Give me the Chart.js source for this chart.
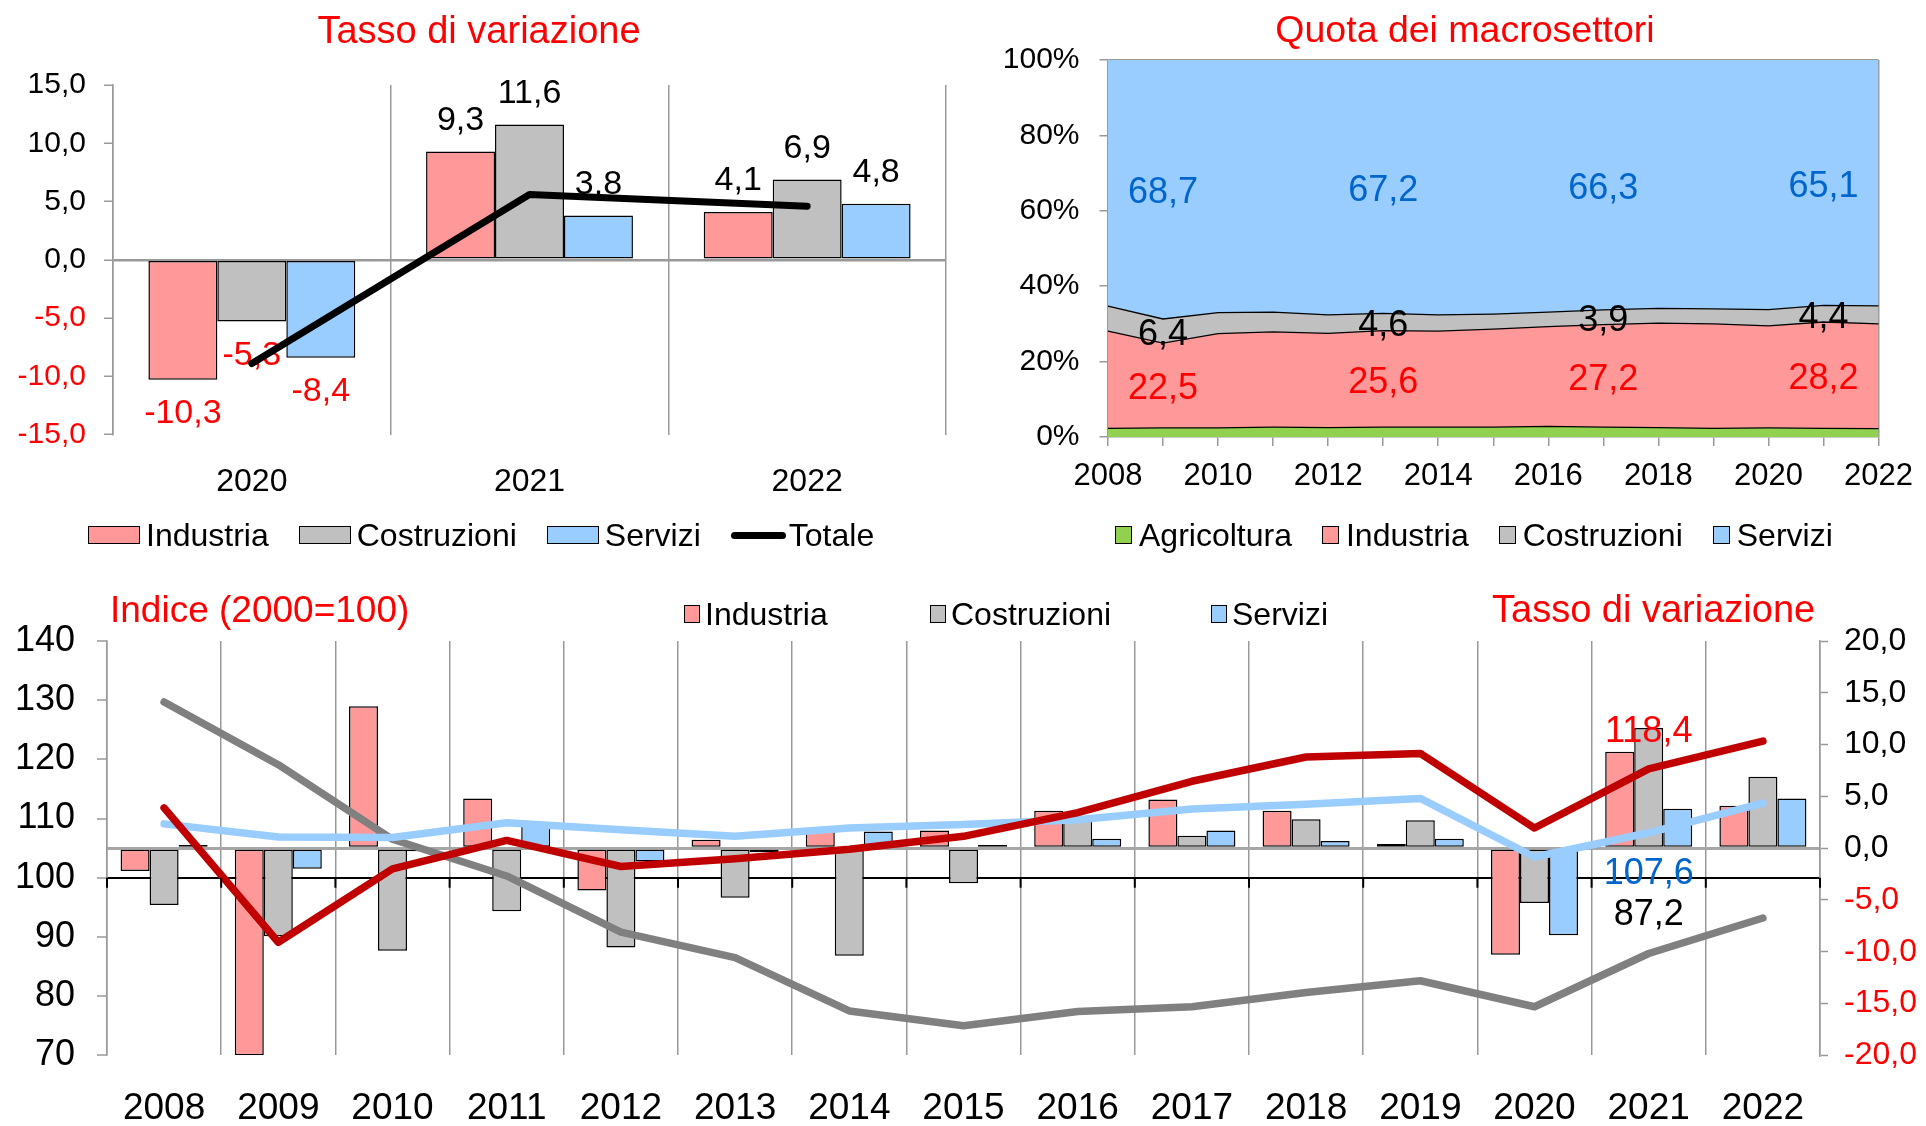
<!DOCTYPE html>
<html>
<head>
<meta charset="utf-8">
<script src="https://cdn.jsdelivr.net/npm/chart.js@4.4.0/dist/chart.umd.min.js"></script>
<style>
  body { margin: 0; background: #fff; }
  #pagina { position: relative; width: 1926px; height: 1126px; overflow: hidden; font-family: 'Liberation Sans', Arial, sans-serif; }
  canvas { position: absolute; }
  .tit { position: absolute; color: #f00; font-size: 37px; line-height: 1; white-space: nowrap; }
  .leg { position: absolute; display: flex; align-items: center; line-height: 1; white-space: nowrap; }
  .it { display: flex; align-items: center; }
  .sw { display: inline-block; border: 1.5px solid #000; box-sizing: border-box; }
</style>
</head>
<body>
<div id="pagina">
  <canvas id="c1" width="964" height="480" style="left:0;top:40px"></canvas>
  <canvas id="c2" width="962" height="500" style="left:964px;top:21px"></canvas>
  <canvas id="c3" width="1926" height="566" style="left:0;top:560px"></canvas>

  <div class="tit" style="left:479px;top:11px;font-size:38px;transform:translateX(-50%)">Tasso di variazione</div>
  <div class="tit" style="left:1465px;top:11px;font-size:37.5px;transform:translateX(-50%)">Quota dei macrosettori</div>
  <div class="tit" style="left:110px;top:591px">Indice (2000=100)</div>
  <div class="tit" style="left:1492px;top:590px;font-size:38px">Tasso di variazione</div>

  <div class="leg" style="left:88px;top:519px;font-size:32px;gap:30px">
    <span class="it" style="gap:6px"><i class="sw" style="width:52px;height:18px;background:#FF9999"></i>Industria</span>
    <span class="it" style="gap:6px"><i class="sw" style="width:52px;height:18px;background:#C0C0C0"></i>Costruzioni</span>
    <span class="it" style="gap:6px"><i class="sw" style="width:52px;height:18px;background:#99CCFF"></i>Servizi</span>
    <span class="it" style="gap:3px"><i style="display:inline-block;width:55px;height:7px;background:#000;border-radius:3.5px"></i>Totale</span>
  </div>

  <div class="leg" style="left:1115px;top:519px;font-size:32px;gap:30px">
    <span class="it" style="gap:7px"><i class="sw" style="width:17px;height:18px;background:#92D050"></i>Agricoltura</span>
    <span class="it" style="gap:7px"><i class="sw" style="width:17px;height:18px;background:#FF9999"></i>Industria</span>
    <span class="it" style="gap:7px"><i class="sw" style="width:17px;height:18px;background:#C0C0C0"></i>Costruzioni</span>
    <span class="it" style="gap:7px"><i class="sw" style="width:17px;height:18px;background:#99CCFF"></i>Servizi</span>
  </div>

  <div class="leg" style="left:684px;top:598px;font-size:32px">
    <span class="it" style="gap:5px"><i class="sw" style="width:16px;height:18px;background:#FF9999"></i>Industria</span>
  </div>
  <div class="leg" style="left:930px;top:598px;font-size:32px">
    <span class="it" style="gap:5px"><i class="sw" style="width:16px;height:18px;background:#C0C0C0"></i>Costruzioni</span>
  </div>
  <div class="leg" style="left:1211px;top:598px;font-size:32px">
    <span class="it" style="gap:5px"><i class="sw" style="width:16px;height:18px;background:#99CCFF"></i>Servizi</span>
  </div>
</div>

<script>
// tasso di variazione 2020-2022 (in alto a sinistra)
const anniVar = ['2020', '2021', '2022'];
const varIndustria = [-10.3, 9.3, 4.1];
const varCostruzioni = [-5.3, 11.6, 6.9];
const varServizi = [-8.4, 3.8, 4.8];
const varTotale = [-8.9, 5.6, 4.6];

// quota dei macrosettori (in alto a destra)
const anniQuota = ['2008', '2009', '2010', '2011', '2012', '2013', '2014', '2015', '2016', '2017', '2018', '2019', '2020', '2021', '2022'];
const quotaAgricoltura = [2.3, 2.4, 2.4, 2.6, 2.5, 2.6, 2.6, 2.6, 2.8, 2.6, 2.5, 2.3, 2.4, 2.3, 2.2];
const quotaIndustria = [25.8, 22.5, 25.0, 25.3, 25.0, 25.6, 25.5, 26.0, 26.5, 27.2, 27.7, 27.7, 27.1, 28.2, 27.8];
const quotaCostruzioni = [6.6, 6.4, 5.6, 5.2, 4.9, 4.6, 4.3, 4.0, 3.8, 3.9, 3.9, 4.0, 4.3, 4.4, 4.8];
const quotaServizi = [65.3, 68.7, 67.0, 66.9, 67.6, 67.2, 67.6, 67.4, 66.9, 66.3, 65.9, 66.0, 66.2, 65.1, 65.2];
const anniEtichette = ['2009', '2013', '2017', '2021'];

// indice (2000=100) e tasso di variazione (in basso)
const anni = ['2008', '2009', '2010', '2011', '2012', '2013', '2014', '2015', '2016', '2017', '2018', '2019', '2020', '2021', '2022'];
const tassoIndustria = [-2.2, -20.0, 13.7, 4.8, -4.1, 0.8, 1.7, 1.7, 3.6, 4.7, 3.6, 0.4, -10.3, 9.3, 4.1];
const tassoCostruzioni = [-5.5, -8.5, -9.9, -6.1, -9.6, -4.8, -10.4, -3.4, 3.1, 1.2, 2.8, 2.7, -5.3, 11.6, 6.9];
const tassoServizi = [0.3, -2.0, -0.3, 2.4, -1.3, -0.4, 1.6, 0.3, 0.9, 1.7, 0.7, 0.9, -8.4, 3.8, 4.8];
const indiceIndustria = [111.8, 89.1, 101.5, 106.3, 101.9, 103.2, 104.8, 107.0, 111.0, 116.3, 120.4, 121.0, 108.4, 118.4, 123.1];
const indiceCostruzioni = [129.7, 119.1, 106.5, 100.3, 90.8, 86.5, 77.5, 75.0, 77.4, 78.2, 80.6, 82.6, 78.2, 87.2, 93.2];
const indiceServizi = [109.1, 106.9, 106.8, 109.3, 108.1, 107.0, 108.4, 109.0, 109.8, 111.6, 112.4, 113.4, 103.5, 107.6, 112.6];

const ROSSO = '#FF0000';
const BLU = '#0066CC';
const ROSA = '#FF9999';
const GRIGIO = '#C0C0C0';
const AZZURRO = '#99CCFF';
const VERDE = '#92D050';
const ASSE = '#999';
const FONT = "'Liberation Sans', Arial, sans-serif";

Chart.defaults.font.family = FONT;
Chart.defaults.color = '#000';
Chart.defaults.animation = false;
Chart.defaults.plugins.legend.display = false;
Chart.defaults.plugins.tooltip.enabled = false;

const fmt = v => Number(v).toFixed(1).replace('.', ',');
const larghezza = w => s => { s.width = w; };
const altezza = h => s => { s.height = h; };
const coloreSegno = c => (c.tick && c.tick.value < 0 ? ROSSO : '#000');

// etichette delle barre (sotto la linea del totale)
const etichetteBarre = {
  id: 'etichetteBarre',
  beforeDatasetsDraw(chart) {
    const ctx = chart.ctx;
    ctx.save();
    ctx.font = '34px ' + FONT;
    ctx.textAlign = 'center';
    ctx.textBaseline = 'middle';
    chart.data.datasets.forEach((ds, i) => {
      if (ds.type === 'line') return;
      chart.getDatasetMeta(i).data.forEach((el, j) => {
        const v = ds.data[j];
        ctx.fillStyle = v < 0 ? ROSSO : '#000';
        ctx.fillText(fmt(v), el.x, el.y + (v < 0 ? 34 : -31));
      });
    });
    ctx.restore();
  }
};

new Chart(document.getElementById('c1'), {
  type: 'bar',
  data: {
    labels: anniVar,
    datasets: [
      { type: 'line', label: 'Totale', data: varTotale, borderColor: '#000', borderWidth: 7,
        pointRadius: 0, borderCapStyle: 'round', borderJoinStyle: 'round', order: 0 },
      { label: 'Industria', data: varIndustria, backgroundColor: ROSA, order: 1 },
      { label: 'Costruzioni', data: varCostruzioni, backgroundColor: GRIGIO, order: 1 },
      { label: 'Servizi', data: varServizi, backgroundColor: AZZURRO, order: 1 }
    ]
  },
  options: {
    responsive: false,
    devicePixelRatio: 1,
    layout: { padding: { top: 45, right: 18, left: 0, bottom: 0 } },
    datasets: { bar: { categoryPercentage: 0.745, barPercentage: 1, borderColor: '#000', borderWidth: 1.5, borderSkipped: false } },
    scales: {
      x: {
        grid: { offset: true, color: ASSE, lineWidth: 1.5, drawTicks: false },
        border: { display: false },
        ticks: { font: { size: 32 }, padding: 28 },
        afterFit: altezza(85.4)
      },
      y: {
        min: -15, max: 15,
        ticks: { stepSize: 5, callback: fmt, color: coloreSegno, font: { size: 30 }, padding: 18 },
        grid: { color: c => (c.tick && c.tick.value === 0 ? ASSE : 'transparent'), lineWidth: 2.5,
                tickColor: ASSE, tickLength: 9, tickWidth: 1.5 },
        border: { color: ASSE, width: 1.5 },
        afterFit: larghezza(113)
      }
    }
  },
  plugins: [etichetteBarre]
});

// etichette delle quote al centro di ciascuna fascia
const etichetteQuote = {
  id: 'etichetteQuote',
  afterDatasetsDraw(chart) {
    const ctx = chart.ctx;
    const colori = [null, ROSSO, '#000', BLU];
    ctx.save();
    ctx.font = '36px ' + FONT;
    ctx.textAlign = 'center';
    ctx.textBaseline = 'middle';
    anniEtichette.forEach(a => {
      const j = anniQuota.indexOf(a);
      for (let i = 1; i < 4; i++) {
        const sopra = chart.getDatasetMeta(i).data[j];
        const sotto = chart.getDatasetMeta(i - 1).data[j];
        ctx.fillStyle = colori[i];
        ctx.fillText(fmt(chart.data.datasets[i].data[j]), sopra.x, (sopra.y + sotto.y) / 2 + 4);
      }
    });
    ctx.restore();
  }
};

new Chart(document.getElementById('c2'), {
  type: 'line',
  data: {
    labels: anniQuota,
    datasets: [
      { label: 'Agricoltura', data: quotaAgricoltura, backgroundColor: VERDE, fill: 'origin' },
      { label: 'Industria', data: quotaIndustria, backgroundColor: ROSA, fill: '-1' },
      { label: 'Costruzioni', data: quotaCostruzioni, backgroundColor: GRIGIO, fill: '-1' },
      { label: 'Servizi', data: quotaServizi, backgroundColor: AZZURRO, fill: '-1', borderWidth: 0 }
    ]
  },
  options: {
    responsive: false,
    devicePixelRatio: 1,
    layout: { padding: { top: 39, right: 47.5, left: 0, bottom: 0 } },
    elements: { line: { borderColor: '#000', borderWidth: 1.3, tension: 0 }, point: { radius: 0 } },
    scales: {
      x: {
        z: 1,
        grid: { color: c => (c.index === anniQuota.length - 1 ? ASSE : 'transparent'), lineWidth: 1.5,
                tickColor: ASSE, tickLength: 9, tickWidth: 1.5 },
        border: { color: ASSE, width: 1.5 },
        ticks: { autoSkip: false, maxRotation: 0, minRotation: 0, font: { size: 31 }, padding: 12,
                 callback: (v, i) => (i % 2 === 0 ? anniQuota[i] : '') },
        afterFit: altezza(84)
      },
      y: {
        z: 1,
        stacked: true, min: 0, max: 100,
        ticks: { stepSize: 20, callback: v => v + '%', font: { size: 30 }, padding: 20 },
        grid: { color: c => (c.tick && c.tick.value === 100 ? ASSE : 'transparent'), lineWidth: 1.5,
                tickColor: ASSE, tickLength: 8.5, tickWidth: 1.5 },
        border: { color: ASSE, width: 1.5 },
        afterFit: larghezza(144)
      }
    }
  },
  plugins: [etichetteQuote]
});

// tacche dell'asse delle categorie che incrocia a 100
const tacche = {
  id: 'tacche',
  afterDraw(chart) {
    const { ctx, scales: { x, y } } = chart;
    const y0 = y.getPixelForValue(100);
    const passo = x.width / x.ticks.length;
    ctx.save();
    ctx.strokeStyle = '#000';
    ctx.lineWidth = 2;
    for (let i = 0; i <= x.ticks.length; i++) {
      const px = x.left + i * passo;
      ctx.beginPath();
      ctx.moveTo(px, y0);
      ctx.lineTo(px, y0 + 10);
      ctx.stroke();
    }
    ctx.restore();
  }
};

// etichette degli indici 2021
const etichetteIndici = {
  id: 'etichetteIndici',
  afterDatasetsDraw(chart) {
    const ctx = chart.ctx;
    const j = anni.indexOf('2021');
    const spec = [[0, ROSSO, -37], [2, BLU, 41], [1, '#000', -38]];
    ctx.save();
    ctx.font = '36px ' + FONT;
    ctx.textAlign = 'center';
    ctx.textBaseline = 'middle';
    spec.forEach(([i, col, dy]) => {
      const el = chart.getDatasetMeta(i).data[j];
      ctx.fillStyle = col;
      ctx.fillText(fmt(chart.data.datasets[i].data[j]), el.x, el.y + dy);
    });
    ctx.restore();
  }
};

const stileLinea = { type: 'line', yAxisID: 'y', borderWidth: 7.5, pointRadius: 0, tension: 0,
                     borderCapStyle: 'round', borderJoinStyle: 'round' };

new Chart(document.getElementById('c3'), {
  type: 'bar',
  data: {
    labels: anni,
    datasets: [
      { ...stileLinea, label: 'Industria (indice)', data: indiceIndustria, borderColor: '#C00000', order: 0 },
      { ...stileLinea, label: 'Costruzioni (indice)', data: indiceCostruzioni, borderColor: '#808080', order: 2 },
      { ...stileLinea, label: 'Servizi (indice)', data: indiceServizi, borderColor: AZZURRO, order: 1 },
      { label: 'Industria', data: tassoIndustria, backgroundColor: ROSA, yAxisID: 'y2', order: 3 },
      { label: 'Costruzioni', data: tassoCostruzioni, backgroundColor: GRIGIO, yAxisID: 'y2', order: 3 },
      { label: 'Servizi', data: tassoServizi, backgroundColor: AZZURRO, yAxisID: 'y2', order: 3 }
    ]
  },
  options: {
    responsive: false,
    devicePixelRatio: 1,
    layout: { padding: { top: 81, right: 0, left: 0, bottom: 0 } },
    datasets: { bar: { categoryPercentage: 0.762, barPercentage: 1, borderColor: '#000', borderWidth: 1.5, borderSkipped: false } },
    scales: {
      x: {
        grid: { offset: true, color: ASSE, lineWidth: 1.5, drawTicks: false },
        border: { display: false },
        ticks: { font: { size: 37 }, padding: 31 },
        afterFit: altezza(70.7)
      },
      y: {
        z: 1,
        position: 'left', min: 70, max: 140,
        ticks: { stepSize: 10, font: { size: 36 }, padding: 22 },
        grid: { color: c => (c.tick && c.tick.value === 100 ? '#000' : 'transparent'), lineWidth: 2,
                tickColor: ASSE, tickLength: 10, tickWidth: 1.5 },
        border: { color: ASSE, width: 1.5 },
        afterFit: larghezza(107)
      },
      y2: {
        type: 'linear', position: 'right', min: -20, max: 20,
        ticks: { stepSize: 5, callback: fmt, color: coloreSegno, font: { size: 32 }, padding: 16 },
        grid: { color: c => (c.tick && c.tick.value === 0 ? '#A6A6A6' : 'transparent'), lineWidth: 3,
                tickColor: ASSE, tickLength: 8, tickWidth: 1.5 },
        border: { color: ASSE, width: 1.5 },
        afterFit: larghezza(106)
      }
    }
  },
  plugins: [tacche, etichetteIndici]
});
</script>
</body>
</html>
